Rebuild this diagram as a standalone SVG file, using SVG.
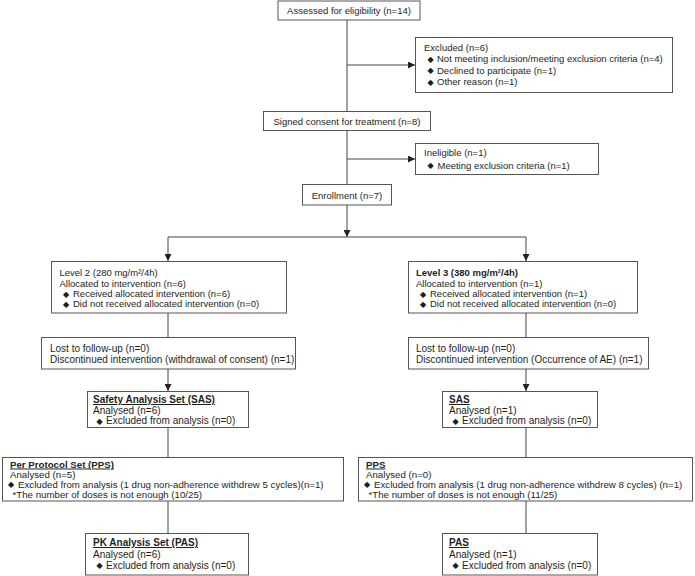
<svg xmlns="http://www.w3.org/2000/svg" width="695" height="576" viewBox="0 0 695 576">
<defs>
<marker id="arr" viewBox="0 0 10 10" refX="10" refY="5" markerWidth="7" markerHeight="7" markerUnits="userSpaceOnUse" orient="auto">
<path d="M0,0 L10,5 L0,10 z" fill="#222"/>
</marker>
<style>
rect{fill:#fff;stroke:#555;stroke-width:1}
text{font-family:"Liberation Sans",Arial,sans-serif;font-size:9.5px;fill:#1e1e1e}
.lo text{font-size:10px}
.pp text{font-size:9.7px}
.c{text-anchor:middle}
.b{font-weight:bold}
.u{font-weight:bold;text-decoration:underline}
text.d,.lo text.d,.pp text.d{font-family:"DejaVu Sans",sans-serif;font-size:8px}
#connectors line{stroke:#444;stroke-width:1;fill:none}
.a{marker-end:url(#arr)}
</style>
</defs>
<rect x="0" y="0" width="695" height="576" style="fill:#fff;stroke:none"/>
<g id="connectors">
<line x1="347" y1="20" x2="347" y2="111"/>
<line class="a" x1="347" y1="65" x2="415" y2="65"/>
<line x1="347" y1="131" x2="347" y2="184"/>
<line class="a" x1="347" y1="159" x2="415" y2="159"/>
<line class="a" x1="347" y1="205" x2="347" y2="237"/>
<line x1="168" y1="237" x2="526" y2="237"/>
<line class="a" x1="168" y1="237" x2="168" y2="261"/>
<line class="a" x1="526" y1="237" x2="526" y2="261"/>
<line x1="168" y1="313" x2="168" y2="337"/>
<line x1="526" y1="313" x2="526" y2="337"/>
<line class="a" x1="168" y1="369" x2="168" y2="391"/>
<line class="a" x1="526" y1="369" x2="526" y2="391"/>
<line x1="168" y1="428" x2="168" y2="457"/>
<line x1="526" y1="428" x2="526" y2="457"/>
<line x1="168" y1="501" x2="168" y2="533"/>
<line x1="526" y1="501" x2="526" y2="533"/>
</g>
<g id="assessed">
<rect x="278" y="1" width="142" height="19"/>
<text class="c" x="349" y="14">Assessed for eligibility (n=14)</text>
</g>
<g id="excluded">
<rect x="415.5" y="37.5" width="257" height="55"/>
<text x="424" y="50.5">Excluded (n=6)</text>
<text class="d" x="427.5" y="61.5">◆</text><text x="437" y="62">Not meeting inclusion/meeting exclusion criteria (n=4)</text>
<text class="d" x="427.5" y="73">◆</text><text x="437" y="73.5">Declined to participate (n=1)</text>
<text class="d" x="427.5" y="84.5">◆</text><text x="437" y="85">Other reason (n=1)</text>
</g>
<g id="consent">
<rect x="263.5" y="111.5" width="167" height="19"/>
<text class="c" x="347" y="124.5">Signed consent for treatment (n=8)</text>
</g>
<g id="ineligible">
<rect x="415.5" y="143.5" width="183" height="31"/>
<text x="424" y="156">Ineligible (n=1)</text>
<text class="d" x="427.5" y="168">◆</text><text x="437.5" y="168.5">Meeting exclusion criteria (n=1)</text>
</g>
<g id="enrollment">
<rect x="302.5" y="184.5" width="89" height="20.5"/>
<text class="c" x="347" y="198.5">Enrollment (n=7)</text>
</g>
<g id="level2">
<rect x="51.5" y="261.5" width="235" height="51.5"/>
<text x="59.5" y="276">Level 2 (280 mg/m²/4h)</text>
<text x="59.5" y="286.5">Allocated to intervention (n=6)</text>
<text class="d" x="63" y="296.5">◆</text><text x="73" y="297">Received allocated intervention (n=6)</text>
<text class="d" x="63" y="306.5">◆</text><text x="73" y="307">Did not received allocated intervention (n=0)</text>
</g>
<g id="level3">
<rect x="408.5" y="261.5" width="229" height="51.5"/>
<text class="b" x="416" y="276">Level 3 (380 mg/m²/4h)</text>
<text x="416" y="286.5">Allocated to intervention (n=1)</text>
<text class="d" x="420" y="296.5">◆</text><text x="430" y="297">Received allocated intervention (n=1)</text>
<text class="d" x="420" y="306.5">◆</text><text x="430" y="307">Did not received allocated intervention (n=0)</text>
</g>
<g id="lost2" class="lo">
<rect x="41.5" y="337.5" width="254" height="31.5"/>
<text x="50" y="351.5">Lost to follow-up (n=0)</text>
<text x="50" y="362.5">Discontinued intervention (withdrawal of consent) (n=1)</text>
</g>
<g id="lost3" class="lo">
<rect x="408.5" y="337.5" width="240" height="31.5"/>
<text x="416" y="351.5">Lost to follow-up (n=0)</text>
<text x="416" y="362.5">Discontinued intervention (Occurrence of AE) (n=1)</text>
</g>
<g id="sas2" class="lo">
<rect x="87.5" y="391.5" width="161" height="36"/>
<text class="u" x="93" y="403">Safety Analysis Set (SAS)</text>
<text x="93" y="413.5">Analysed (n=6)</text>
<text class="d" x="96.5" y="423.5">◆</text><text x="106" y="424">Excluded from analysis (n=0)</text>
</g>
<g id="sas3" class="lo">
<rect x="442.5" y="391.5" width="155" height="36"/>
<text class="u" x="449" y="403">SAS</text>
<text x="449" y="413.5">Analysed (n=1)</text>
<text class="d" x="452.5" y="423.5">◆</text><text x="462" y="424">Excluded from analysis (n=0)</text>
</g>
<g id="pps2" class="pp">
<rect x="2.5" y="457.5" width="341" height="43.5"/>
<text class="u" x="10" y="467.5">Per Protocol Set (PPS)</text>
<text x="10" y="477.5">Analysed (n=5)</text>
<text class="d" x="8" y="487">◆</text><text x="18" y="487.5">Excluded from analysis (1 drug non-adherence withdrew 5 cycles)(n=1)</text>
<text x="12.5" y="497.5">*The number of doses is not enough (10/25)</text>
</g>
<g id="pps3" class="pp">
<rect x="358.5" y="457.5" width="334" height="43.5"/>
<text class="u" x="366" y="467.5">PPS</text>
<text x="366" y="477.5">Analysed (n=0)</text>
<text class="d" x="364" y="487">◆</text><text x="374" y="487.5">Excluded from analysis (1 drug non-adherence withdrew 8 cycles) (n=1)</text>
<text x="368.5" y="497.5">*The number of doses is not enough (11/25)</text>
</g>
<g id="pas2" class="lo">
<rect x="85.5" y="533.5" width="163" height="41.5"/>
<text class="u" x="93" y="546">PK Analysis Set (PAS)</text>
<text x="93" y="557.5">Analysed (n=6)</text>
<text class="d" x="96.5" y="568">◆</text><text x="106" y="568.5">Excluded from analysis (n=0)</text>
</g>
<g id="pas3" class="lo">
<rect x="442.5" y="533.5" width="155" height="41.5"/>
<text class="u" x="449" y="546">PAS</text>
<text x="449" y="557.5">Analysed (n=1)</text>
<text class="d" x="452.5" y="568">◆</text><text x="462" y="568.5">Excluded from analysis (n=0)</text>
</g>
</svg>
